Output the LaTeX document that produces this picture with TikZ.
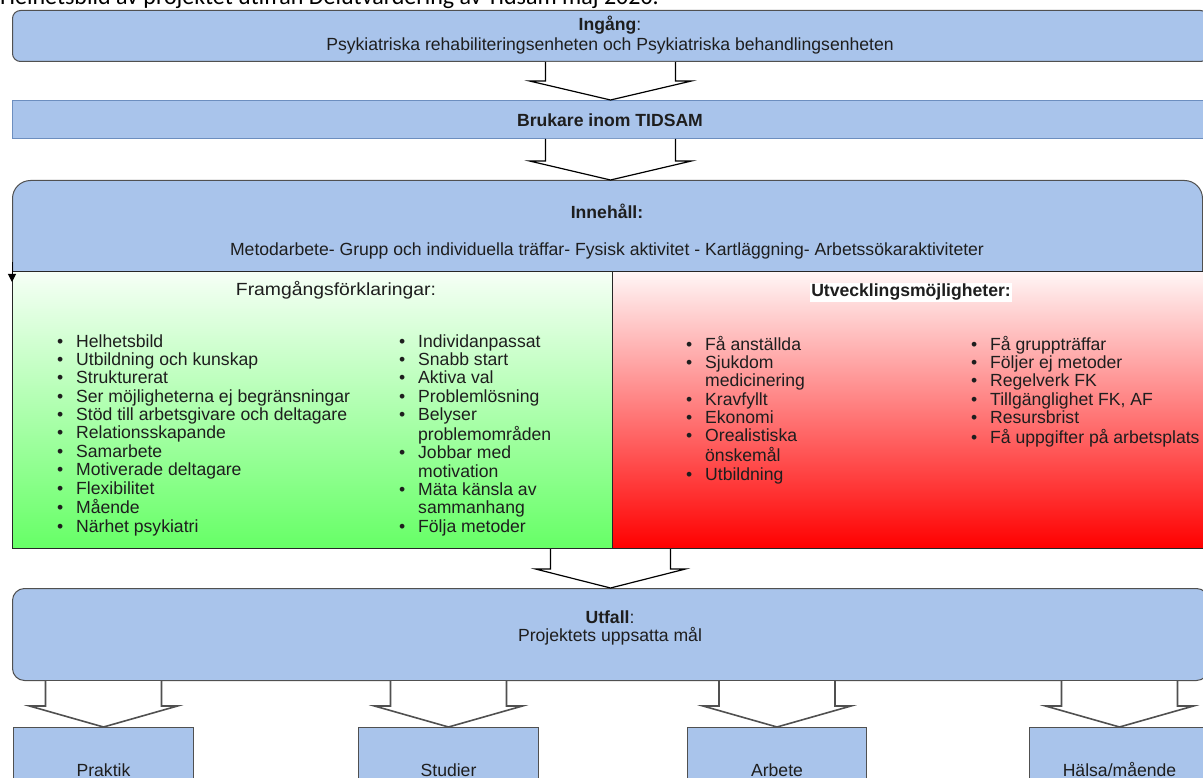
\documentclass[tikz,border=0pt]{standalone}
\usepackage{fontspec}
\setmainfont{Liberation Sans}
\newfontfamily\calib{Carlito}
\usetikzlibrary{calc,arrows.meta}
\definecolor{boxblue}{HTML}{A9C4EB}
\definecolor{bordgray}{HTML}{505050}
\definecolor{bordblue}{HTML}{6C8EBF}
\definecolor{txt}{HTML}{1E1E1E}
\definecolor{grnbot}{HTML}{66FF66}
\definecolor{grntop}{HTML}{F6FFF6}
\definecolor{redtop}{HTML}{FFF6F6}
\definecolor{redbot}{HTML}{FF0000}
\newcommand\itm[1]{\makebox[19pt][l]{•}#1\\}
\newcommand\cnt[1]{\hspace*{19pt}#1\\}
\newcommand\txtsize{\fontsize{17.6pt}{18.4pt}\selectfont}
\newcommand\blkarrow[6]{%
  \draw[#1] let \p1=(#2), \p2=(#3) in
    (\x2-#4pt,\y1) -- (\x2-#4pt,\y2+#6pt) -- (\x2-#5pt,\y2+#6pt) -- (\x2,\y2)
    -- (\x2+#5pt,\y2+#6pt) -- (\x2+#4pt,\y2+#6pt) -- (\x2+#4pt,\y1);}
\begin{document}
\begin{tikzpicture}[x=1pt,y=-1pt,
  bluebox/.style={draw=bordgray, fill=boxblue, line width=1pt, inner sep=0pt, anchor=north west},
  lbl/.style={inner sep=0pt, text=txt, font=\txtsize, anchor=base},
  blockarrow/.style={draw=black, fill=white, line width=1.2pt, line join=miter},
  smallarrow/.style={draw=bordgray, fill=white, line width=1.6pt, line join=miter},
  list/.style={inner sep=0pt, anchor=base west, text=txt, font=\txtsize}]

\useasboundingbox (0,0) rectangle (1203,778);
\clip (0,0) rectangle (1203,778);

% cut-off title
\node[anchor=base west, inner sep=0pt, text=black, font=\calib\fontsize{24pt}{28pt}\selectfont] (title) at (0,5) {Helhetsbild av projektet utifrån Delutvärdering av Tidsam maj 2020.};

% Ingang
\node[bluebox, rounded corners=8pt, minimum width=1196pt, minimum height=51pt] (ing) at (12,10) {};
\node[lbl] (ingt1) at (610,31) {\textbf{Ingång}:};
\node[lbl] (ingt2) at (610,51) {Psykiatriska rehabiliteringsenheten och Psykiatriska behandlingsenheten};

% Brukare
\node[bluebox, draw=bordblue, minimum width=1196pt, minimum height=38pt] (bru) at (12,100) {};
\node[lbl] (brut) at (610,127) {\textbf{Brukare inom TIDSAM}};

% Innehall header
\node[bluebox, rounded corners=18pt, minimum width=1190pt, minimum height=120pt] (inn) at (12,180) {};
\node[lbl] (innt1) at (607,219) {\textbf{Innehåll:}};
\node[lbl] (innt2) at (607,256) {Metodarbete- Grupp och individuella träffar- Fysisk aktivitet - Kartläggning- Arbetssökaraktiviteter};

% green and red panels
\node[draw=black!85, line width=1pt, top color=grntop, bottom color=grnbot, minimum width=600pt, minimum height=277pt, inner sep=0pt, anchor=north west] (gb) at (12,271) {};
\node[draw=black!85, line width=1pt, top color=redtop, bottom color=redbot, minimum width=600pt, minimum height=277pt, inner sep=0pt, anchor=north west] (rb) at (612,271) {};

% small arrow artefact on left edge
\coordinate (la) at (12,262);
\coordinate (lb) at (12,282);
\draw[line width=1pt, -{Triangle[length=8pt,width=8pt]}] (la) -- (lb);

\node[lbl] (fgt) at (336,296) {\scalebox{1.1}[1]{Framgångsförklaringar:}};
\node[lbl, fill=white, inner sep=1pt] (ugt) at (911,297) {\textbf{Utvecklingsmöjligheter:}};

\node[list] (gl) at (57,347) {\begin{tabular}[t]{@{}l@{}}
\itm{Helhetsbild}
\itm{Utbildning och kunskap}
\itm{Strukturerat}
\itm{Ser möjligheterna ej begränsningar}
\itm{Stöd till arbetsgivare och deltagare}
\itm{Relationsskapande}
\itm{Samarbete}
\itm{Motiverade deltagare}
\itm{Flexibilitet}
\itm{Mående}
\itm{Närhet psykiatri}
\end{tabular}};

\node[list] (gr) at (399,347) {\begin{tabular}[t]{@{}l@{}}
\itm{Individanpassat}
\itm{Snabb start}
\itm{Aktiva val}
\itm{Problemlösning}
\itm{Belyser}
\cnt{problemområden}
\itm{Jobbar med}
\cnt{motivation}
\itm{Mäta känsla av}
\cnt{sammanhang}
\itm{Följa metoder}
\end{tabular}};

\node[list] (rl) at (686,350) {\begin{tabular}[t]{@{}l@{}}
\itm{Få anställda}
\itm{Sjukdom}
\cnt{medicinering}
\itm{Kravfyllt}
\itm{Ekonomi}
\itm{Orealistiska}
\cnt{önskemål}
\itm{Utbildning}
\end{tabular}};

\node[list] (rr) at (971,350) {\begin{tabular}[t]{@{}l@{}}
\itm{Få gruppträffar}
\itm{Följer ej metoder}
\itm{Regelverk FK}
\itm{Tillgänglighet FK, AF}
\itm{Resursbrist}
\itm{Få uppgifter på arbetsplats}
\end{tabular}};

% Utfall
\node[bluebox, rounded corners=12pt, minimum width=1196pt, minimum height=92pt] (utf) at (12,588) {};
\node[lbl] (utft1) at (610,623) {\textbf{Utfall}:};
\node[lbl] (utft2) at (610,641) {Projektets uppsatta mål};

% bottom boxes
\node[bluebox, minimum width=180pt, minimum height=90pt] (prak) at (13,727) {};
\node[bluebox, minimum width=180pt, minimum height=90pt] (stud) at (358,727) {};
\node[bluebox, minimum width=179pt, minimum height=90pt] (arb) at (687,727) {};
\node[bluebox, minimum width=180pt, minimum height=90pt] (hals) at (1029,727) {};
\node[lbl] (prakt) at (prak.north |- 0,776) {Praktik};
\node[lbl] (studt) at (stud.north |- 0,776) {Studier};
\node[lbl] (arbt) at (arb.north |- 0,776) {Arbete};
\node[lbl] (halst) at (hals.north |- 0,776) {Hälsa/mående};

% block arrows
\blkarrow{blockarrow}{ing.south}{bru.north}{65}{81}{19}
\blkarrow{blockarrow}{bru.south}{inn.north -| bru.south}{65}{81}{19}
\blkarrow{blockarrow}{gb.south east}{utf.north}{60}{75}{19}
\blkarrow{smallarrow}{utf.south -| prak.north}{prak.north}{58}{74}{21}
\blkarrow{smallarrow}{utf.south -| stud.north}{stud.north}{58}{74}{21}
\blkarrow{smallarrow}{utf.south -| arb.north}{arb.north}{58}{74}{21}
\blkarrow{smallarrow}{utf.south -| hals.north}{hals.north}{58}{74}{21}
\end{tikzpicture}
\end{document}
